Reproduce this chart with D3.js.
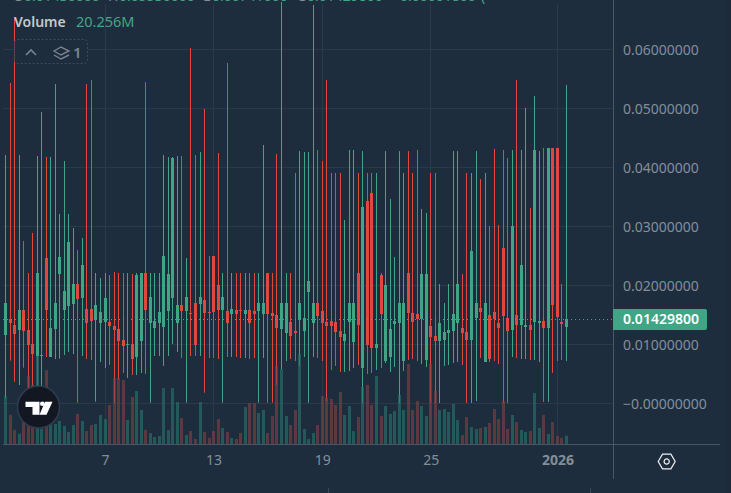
<!DOCTYPE html>
<html>
<head>
<meta charset="utf-8">
<script src="https://cdn.jsdelivr.net/npm/d3@7"></script>
<style>
  html, body { margin: 0; padding: 0; background: #1e2d3d; overflow: hidden; }
  text { font-family: "Noto Sans", sans-serif; }
</style>
</head>
<body>
<script>
// 6h candles, one entry per candle, prices in units of 0.00001
const opens = [1161,1432,1331,1246,1585,1246,1009,810,810,2466,788,1263,2195,1585,1653,1687,2025,1788,1602,1602,1415,1364,1381,1381,1314,1263,1076,997,1009,788,1059,2212,1364,1280,1364,1297,1568,1788,1364,1670,1568,1534,1703,1687,1754,1546,2500,2009,1585,1568,1517,1585,1580,1517,1585,1568,1568,1517,2212,1534,1500,1263,1195,1381,1229,1415,1229,1890,1364,1703,1568,1381,1398,1381,1229,1059,1381,1042,2212,602,3432,3568,941,2178,720,788,1348,1364,720,2212,1534,1517,1432,737,1314,1144,1059,1076,1195,1229,1364,1280,1212,1076,1449,1619,703,1500,1551,1364,2636,1449,1246,1500,1331,1297,1331,1381,1364,1398,1280,4331,4331,1381,1297];
const highs = [4212,5432,6534,4212,2754,2212,2890,4195,4941,4178,4178,5415,3212,4110,3212,2975,2602,2805,5415,5483,2212,2127,2212,2178,2229,2212,2212,2212,2195,2212,2212,5449,2212,2212,2212,4212,4178,4178,4195,4195,2466,6025,4212,4263,4992,2500,2500,4246,2212,5771,2212,2212,2212,2212,2212,2212,2212,4381,2212,2212,4229,6805,2212,2212,3907,4279,4263,4263,6754,4297,4110,5483,3907,3907,3907,3110,4297,4297,3907,4279,3907,3907,3907,2212,4279,3466,2483,4279,3907,4279,3907,4297,3297,3229,3907,3907,2025,1703,2025,4279,4279,2195,3907,3907,4279,3805,3907,3009,4314,3025,4297,4161,4297,5483,4297,5009,3314,5212,4279,4331,4331,4331,4331,2025,5398];
const lows = [93,726,370,314,607,263,297,229,280,788,788,754,759,822,873,839,14,805,754,737,31,703,602,653,8,398,517,432,483,483,517,500,14,805,805,636,805,1009,873,771,14,805,805,805,183,771,771,754,14,788,788,788,771,771,754,771,14,771,14,14,314,585,720,754,720,636,788,14,788,771,720,31,568,636,534,534,551,602,653,8,500,517,568,602,686,534,619,8,551,737,754,720,669,619,8,8,8,636,653,686,703,653,8,8,42,771,703,703,720,669,8,8,788,771,754,754,737,737,703,25,25,517,720,737,720];
const closes = [1698,1359,1178,1585,1229,992,839,2212,822,1585,1280,1703,2483,1907,2737,2025,1771,2348,1364,1398,1670,1551,1788,1314,1246,1059,975,1009,754,2178,2212,1585,1805,1398,1551,2500,2195,4161,1670,1568,1805,1522,992,1805,1534,1534,1551,1585,1805,1364,1602,1517,1568,1585,1364,1517,1703,1703,1517,1483,1280,1703,1703,1144,1195,1703,1449,2076,1703,1483,1364,1314,1314,1212,1127,1178,1703,1703,1331,3331,992,941,1009,1517,2009,1263,1398,1703,1703,1534,1381,1432,2195,2195,1127,1059,1364,1212,1246,1517,2025,1195,1076,2585,1703,1551,1703,754,1432,1280,1483,1229,3009,1331,2348,1331,1246,4297,1398,1280,4331,1670,1466,1348,1430];
// volume in millions
const volumes = [116.4,71.5,34.9,25.1,53.7,165.9,144,214.7,36.6,180.6,48.8,48.8,56.1,43.9,29.3,46.4,73.2,56.1,31.7,46.4,48.8,70.8,61,95.2,161,161,156.2,58.6,114.7,129.3,83,34.2,26.8,17.1,19.5,136.6,34.2,136.6,102.5,63.4,22,31.7,12.2,102.5,29.3,14.6,31.7,61,39,29.3,14.6,12.2,26.8,90.3,100,100,75.6,83,26.8,68.3,190.3,183,68.3,46.4,83,219.6,36.6,12.2,26.8,46.4,117.1,112.2,109.8,95.2,126.9,70.8,92.7,31.7,65.9,139.1,144,95.2,165.9,68.3,92.7,73.2,80.5,119.6,83,195.2,83,104.9,92.7,68.3,195.2,129.3,83,85.4,78.1,97.6,58.6,22,65.9,41.5,36.6,39,41.5,51.2,85.4,61,104.9,36.6,70.8,53.7,34.2,29.3,31.7,124.4,39,70.8,24.4,53.7,19.5,14.6,20.256];

const priceTicks = [0.06, 0.05, 0.04, 0.03, 0.02, 0.01, 0];
const priceLabels = ["0.06000000", "0.05000000", "0.04000000", "0.03000000", "0.02000000", "0.01000000", "\u22120.00000000"];
const dayTicks = [22, 46, 70, 94, 122];   // candle index of each date label
const dayLabels = ["7", "13", "19", "25", "2026"];
const lastPrice = 0.014298;
const lastPriceLabel = "0.01429800";
const volumeLabel = "20.256M";

const width = 731;
const height = 493;
const paneRight = 613;
const volumeBase = 444;
const up = "#3fa585";
const down = "#e0483f";
const grid = "#2a3a49";
const axisText = "#848e98";

const candles = opens.map((o, i) => ({
  i: i,
  open: o / 1e5,
  high: highs[i] / 1e5,
  low: lows[i] / 1e5,
  close: closes[i] / 1e5,
  volume: volumes[i],
}));

const x = d3.scaleLinear().domain([0, 124]).range([5.5, 566.5]);
const y = d3.scaleLinear().domain([0, 0.06]).range([403.5, 49.5]);
const yVol = d3.scaleLinear().domain([0, 244]).range([volumeBase, volumeBase - 100]);
const col = (i) => Math.floor(x(i));
const isUp = (d) => d.close >= d.open;

const svg = d3
  .select("body")
  .append("svg")
  .attr("width", width)
  .attr("height", height)
  .style("display", "block");

svg.append("rect").attr("width", width).attr("height", height).attr("fill", "#1e2d3d");
svg.append("rect").attr("x", 726).attr("width", 5).attr("height", height).attr("fill", "#1c2a39");

// grid
svg
  .append("g")
  .selectAll("line")
  .data(priceTicks)
  .enter()
  .append("line")
  .attr("x1", 3)
  .attr("x2", paneRight)
  .attr("y1", (d) => y(d))
  .attr("y2", (d) => y(d))
  .attr("stroke", grid);

svg
  .append("g")
  .selectAll("line")
  .data(dayTicks)
  .enter()
  .append("line")
  .attr("x1", (d) => col(d) + 0.5)
  .attr("x2", (d) => col(d) + 0.5)
  .attr("y1", 4)
  .attr("y2", volumeBase)
  .attr("stroke", grid);

// candles
const candleG = svg.append("g");
candleG
  .selectAll("rect.wick")
  .data(candles)
  .enter()
  .append("rect")
  .attr("class", "wick")
  .attr("x", (d) => col(d.i))
  .attr("y", (d) => y(d.high))
  .attr("width", 1)
  .attr("height", (d) => y(d.low) - y(d.high))
  .attr("fill", (d) => (isUp(d) ? up : down));

candleG
  .selectAll("rect.body")
  .data(candles)
  .enter()
  .append("rect")
  .attr("class", "body")
  .attr("x", (d) => col(d.i) - 1)
  .attr("y", (d) => Math.round(y(Math.max(d.open, d.close))))
  .attr("width", 3)
  .attr("height", (d) => Math.max(1, Math.round(Math.abs(y(d.open) - y(d.close)))))
  .attr("fill", (d) => (isUp(d) ? up : down));

// volume sits over the candles, mostly opaque
svg
  .append("g")
  .selectAll("rect")
  .data(candles)
  .enter()
  .append("rect")
  .attr("x", (d) => col(d.i) - 1)
  .attr("y", (d) => yVol(d.volume))
  .attr("width", 3)
  .attr("height", (d) => volumeBase - yVol(d.volume))
  .attr("fill", (d) => (isUp(d) ? "#277267" : "#7c4143"))
  .attr("opacity", 0.65);

// last price line
svg
  .append("line")
  .attr("x1", 3)
  .attr("x2", paneRight)
  .attr("y1", Math.floor(y(lastPrice)) + 0.5)
  .attr("y2", Math.floor(y(lastPrice)) + 0.5)
  .attr("stroke", up)
  .attr("stroke-dasharray", "1 3");

// axes frame
svg.append("line").attr("x1", 3).attr("x2", 720).attr("y1", volumeBase + 0.5).attr("y2", volumeBase + 0.5).attr("stroke", "#4a5664");
svg.append("line").attr("x1", paneRight + 0.5).attr("x2", paneRight + 0.5).attr("y1", 0).attr("y2", 479).attr("stroke", "#4a5664");

const yAxis = d3
  .axisRight(y)
  .tickValues(priceTicks)
  .tickSize(0)
  .tickPadding(10)
  .tickFormat((d, i) => priceLabels[i]);
const yAxisG = svg.append("g").attr("transform", `translate(${paneRight},0.5)`).call(yAxis);
yAxisG.select(".domain").remove();
yAxisG.selectAll("text").attr("fill", axisText).style("font-size", "14px").style("font-family", '"Noto Sans", sans-serif');

const xAxis = d3
  .axisBottom(x)
  .tickValues(dayTicks)
  .tickSize(0)
  .tickPadding(11)
  .tickFormat((d, i) => dayLabels[i]);
const xAxisG = svg.append("g").attr("transform", `translate(0,${volumeBase})`).call(xAxis);
xAxisG.select(".domain").remove();
xAxisG
  .selectAll("text")
  .attr("fill", axisText)
  .style("font-size", "14px")
  .style("font-family", '"Noto Sans", sans-serif')
  .style("font-weight", (d, i) => (dayLabels[i] === "2026" ? 700 : 400));

// last price tag
const tagY = Math.floor(y(lastPrice));
svg
  .append("path")
  .attr("d", `M${paneRight},${tagY - 10}H705a2,2 0 0 1 2,2V${tagY + 9}a2,2 0 0 1 -2,2H${paneRight}Z`)
  .attr("fill", up);
svg
  .append("text")
  .attr("x", 623)
  .attr("y", tagY + 5)
  .attr("fill", "#fff")
  .attr("font-size", 14)
  .attr("font-weight", 600)
  .text(lastPriceLabel);

// clipped OHLC header along the top edge
const header = [
  [13, "O", "#848e98"], [24, "0.01430000", up],
  [108, "H", "#848e98"], [119, "0.05530000", up],
  [203, "L", "#848e98"], [212, "0.00741000", up],
  [297, "C", "#848e98"], [307, "0.01429800", up],
  [392, "+0.00001800", up], [481, "(", up],
];
svg
  .append("g")
  .selectAll("text")
  .data(header)
  .enter()
  .append("text")
  .attr("x", (d) => d[0])
  .attr("y", 1)
  .attr("font-size", 14)
  .attr("fill", (d) => d[2])
  .text((d) => d[1]);

// legend
svg.append("text").attr("x", 14).attr("y", 27).attr("font-size", 14).attr("font-weight", 600).attr("fill", "#c3c8cc").text("Volume");
svg.append("text").attr("x", 76).attr("y", 27).attr("font-size", 14.5).attr("fill", up).text(volumeLabel);
svg
  .append("rect")
  .attr("x", 14.5)
  .attr("y", 39.5)
  .attr("width", 73)
  .attr("height", 24)
  .attr("rx", 3)
  .attr("fill", "#1e2d3d")
  .attr("stroke", "#3e4d5c")
  .attr("stroke-dasharray", "2 2");
svg.append("path").attr("d", "M26,55L31,50L36,55").attr("fill", "none").attr("stroke", "#79838e").attr("stroke-width", 1.6);
svg
  .append("path")
  .attr("d", "M54,51L61,47L69,51L61,55ZM54,55L61,59L69,55")
  .attr("fill", "none")
  .attr("stroke", "#79838e")
  .attr("stroke-width", 1.4);
svg.append("text").attr("x", 73).attr("y", 58).attr("font-size", 15).attr("font-weight", 600).attr("fill", "#79838e").text("1");

// watermark logo
const logo = svg.append("g").attr("transform", "translate(38.5,407)");
logo.append("circle").attr("r", 21).attr("fill", "#131722").attr("stroke", "#2e3c4d").attr("stroke-width", 1.5);
logo.append("path").attr("d", "M-13,-5.3H1V7.7H-6V0H-13Z").attr("fill", "#fff");
logo.append("circle").attr("cx", 3.8).attr("cy", -3.2).attr("r", 2.3).attr("fill", "#fff");
logo.append("path").attr("d", "M6.5,-5.3H14L8,7.7H1Z").attr("fill", "#fff");

// settings hexagon
const gear = svg.append("g").attr("transform", "translate(666.7,461.5)");
gear
  .append("path")
  .attr("d", "M-8.5,0L-4.2,-7.3H4.2L8.5,0L4.2,7.3H-4.2Z")
  .attr("fill", "none")
  .attr("stroke", "#eef0f2")
  .attr("stroke-width", 1.2);
gear.append("circle").attr("r", 2.6).attr("fill", "none").attr("stroke", "#eef0f2").attr("stroke-width", 1.2);

// stubs of the bottom toolbar
svg
  .append("g")
  .selectAll("line")
  .data([328.5, 590.5])
  .enter()
  .append("line")
  .attr("x1", (d) => d)
  .attr("x2", (d) => d)
  .attr("y1", 488)
  .attr("y2", 493)
  .attr("stroke", "#3a4856");
</script>
</body>
</html>
